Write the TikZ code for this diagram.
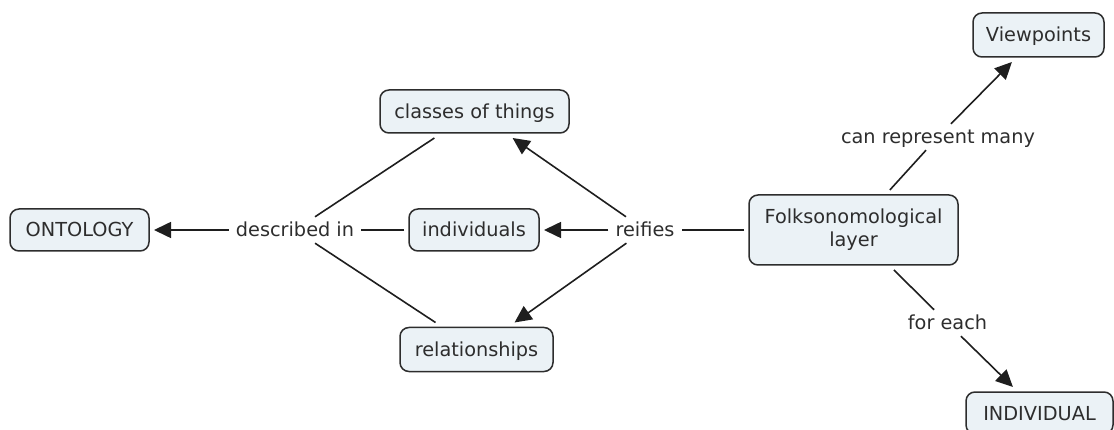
\documentclass[tikz,border=0pt]{standalone}
\usepackage{fontspec}
\setmainfont{DejaVu Sans}
\usetikzlibrary{arrows.meta}
\definecolor{conceptfill}{RGB}{235,242,246}
\definecolor{inkgrey}{RGB}{45,45,45}
\definecolor{linkgrey}{RGB}{30,30,30}
\begin{document}
\begin{tikzpicture}[x=1pt,y=-1pt,
  mapfont/.style={font=\fontsize{19.3}{23}\selectfont, text=inkgrey},
  concept/.style={mapfont, draw=inkgrey, fill=conceptfill, rounded corners=9pt,
    line width=1.5pt, inner sep=0pt, outer sep=5pt, align=center},
  oneline/.style={text height=17pt, text depth=3pt},
  phrase/.style={mapfont, oneline, inner xsep=7pt, inner ysep=3pt},
  link/.style={draw=linkgrey, line width=1.6pt},
  arrowlink/.style={link, -{Triangle[length=17pt,width=16pt]}}]

% page frame; the lower concept runs off the bottom edge
\clip (0,0) rectangle (1114,430);

% concepts
\node[concept, oneline, minimum width=139pt, minimum height=42pt] (ontology) at (79.5,230) {ONTOLOGY};
\node[concept, oneline, minimum width=189pt, minimum height=43pt] (classes) at (474.5,111.5) {classes of things};
\node[concept, oneline, minimum width=130pt, minimum height=42pt] (individuals) at (474,230) {individuals};
\node[concept, oneline, minimum width=153pt, minimum height=44pt] (relations) at (476.5,349.5) {relationships};
\node[concept, minimum width=209pt, minimum height=70pt] (folk) at (853.5,230) {Folksonomological\\layer};
\node[concept, oneline, minimum width=131pt, minimum height=44pt] (viewpoints) at (1038.5,35) {Viewpoints};
\node[concept, oneline, minimum width=147pt, minimum height=42pt] (individual) at (1039.5,413) {INDIVIDUAL};

% linking phrases
\node[phrase] (described) at (295,230) {described in};
\node[phrase] (reifies) at (645,230) {reifies};
\node[phrase] (represent) at (938,137) {can represent many};
\node[phrase] (foreach) at (947.5,323) {for each};

% connectors
\draw[link] (classes) -- (described);
\draw[link] (individuals) -- (described);
\draw[link] (relations) -- (described);
\draw[arrowlink] (described) -- (ontology);

\draw[link] (folk) -- (reifies);
\draw[arrowlink] (reifies) -- (classes);
\draw[arrowlink] (reifies) -- (individuals);
\draw[arrowlink] (reifies) -- (relations);

\draw[link] (folk) -- (represent);
\draw[arrowlink] (represent) -- (viewpoints);

\draw[link] (folk) -- (foreach);
\draw[arrowlink] (foreach) -- (individual);
\end{tikzpicture}
\end{document}
